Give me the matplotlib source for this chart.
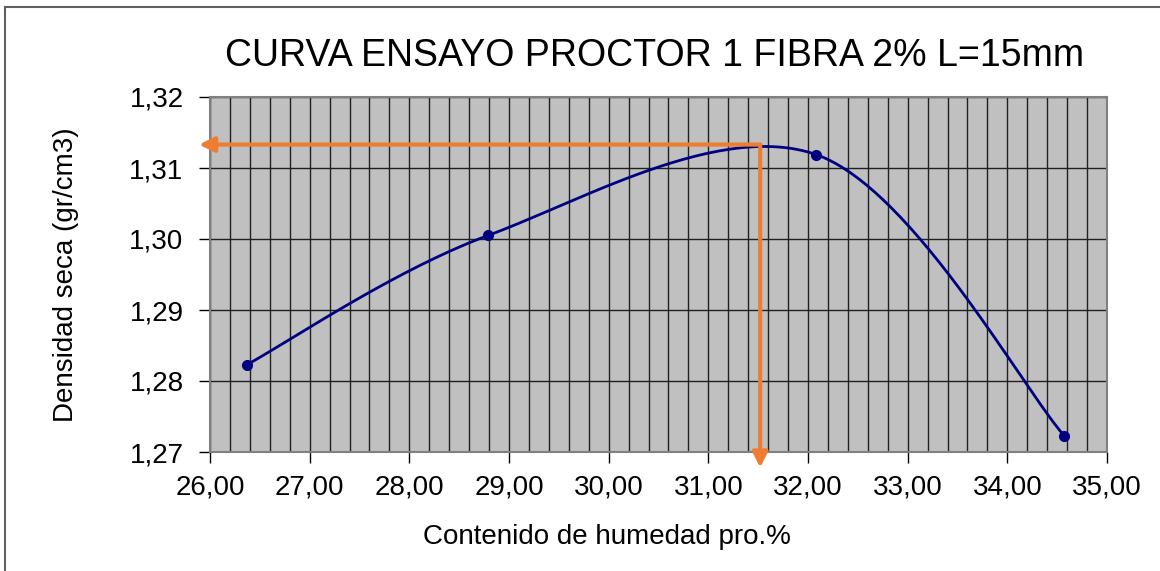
import numpy as np
import matplotlib.pyplot as plt
from matplotlib.ticker import MultipleLocator, FuncFormatter

# measured points
humedad = [26.37, 28.79, 32.08, 34.57]
densidad = [1.2823, 1.3005, 1.3119, 1.2723]

# optimum
hum_opt = 31.52
dens_opt = 1.3133

title = "CURVA ENSAYO PROCTOR 1 FIBRA 2% L=15mm"
xlabel = "Contenido de humedad pro.%"
ylabel = "Densidad seca (gr/cm3)"


def smooth_curve(xs, ys, n=60):
    # bezier smoothing like a spreadsheet "smoothed line"
    pts = np.column_stack([xs, ys])
    ext = np.vstack([pts[0], pts, pts[-1]])
    out = []
    t = np.linspace(0, 1, n)[:, None]
    for i in range(len(pts) - 1):
        p0, p3 = ext[i + 1], ext[i + 2]
        c1 = p0 + (ext[i + 2] - ext[i]) / 6
        c2 = p3 - (ext[i + 3] - ext[i + 1]) / 6
        seg = (1 - t) ** 3 * p0 + 3 * (1 - t) ** 2 * t * c1 + 3 * (1 - t) * t ** 2 * c2 + t ** 3 * p3
        out.append(seg)
    out = np.vstack(out)
    return out[:, 0], out[:, 1]


plt.rcParams['font.family'] = ['Liberation Sans', 'DejaVu Sans']

fig = plt.figure(figsize=(11.6, 5.71), dpi=100)
ax = fig.add_axes([210 / 1160, 1 - 452 / 571, 897 / 1160, 355 / 571])

ax.set_facecolor('#C0C0C0')
ax.set_xlim(26, 35)
ax.set_ylim(1.27, 1.32)

ax.xaxis.set_major_locator(MultipleLocator(1))
ax.xaxis.set_minor_locator(MultipleLocator(0.2))
ax.yaxis.set_major_locator(MultipleLocator(0.01))
ax.grid(which='both', axis='x', color='#202020', linewidth=1)
ax.grid(which='major', axis='y', color='#202020', linewidth=1)
ax.set_axisbelow(True)

fmt = FuncFormatter(lambda v, p: f"{v:.2f}".replace('.', ','))
ax.xaxis.set_major_formatter(fmt)
ax.yaxis.set_major_formatter(fmt)
ax.tick_params(axis='both', which='major', labelsize=20, length=8, width=1, color='black')
ax.tick_params(axis='x', which='minor', length=0)
ax.tick_params(axis='x', pad=8)
ax.tick_params(axis='y', pad=11)

for s in ax.spines.values():
    s.set_color('#808080')
    s.set_linewidth(1.5)

cx, cy = smooth_curve(humedad, densidad)
ax.plot(cx, cy, color='#000080', linewidth=2, zorder=3)
ax.plot(humedad, densidad, 'o', color='#000080', markersize=7, zorder=4)

# orange arrows to the axes
arrow = dict(arrowstyle='-|>,head_length=0.9,head_width=0.45', color='#ED7D31',
             linewidth=3, shrinkA=0, shrinkB=0)
ax.annotate('', xy=(25.89, dens_opt), xytext=(hum_opt, dens_opt),
            arrowprops=arrow, annotation_clip=False, zorder=5)
ax.annotate('', xy=(hum_opt, 1.2678), xytext=(hum_opt, dens_opt),
            arrowprops=arrow, annotation_clip=False, zorder=5)

fig.text(655 / 1160, 1 - 56 / 571, title, ha='center', va='center', fontsize=27)
fig.text(607 / 1160, 1 - 537 / 571, xlabel, ha='center', va='center', fontsize=20)
fig.text(66 / 1160, 1 - 275 / 571, ylabel, ha='center', va='center', fontsize=20, rotation=90)

# outer chart border (only top and left edges are visible)
fig.add_artist(plt.Line2D([5 / 1160, 5 / 1160], [0, 1 - 7 / 571], transform=fig.transFigure,
                          color='#606060', linewidth=1.5))
fig.add_artist(plt.Line2D([5 / 1160, 1], [1 - 7 / 571, 1 - 7 / 571], transform=fig.transFigure,
                          color='#606060', linewidth=1.5))

fig.savefig('out.png', dpi=100)
